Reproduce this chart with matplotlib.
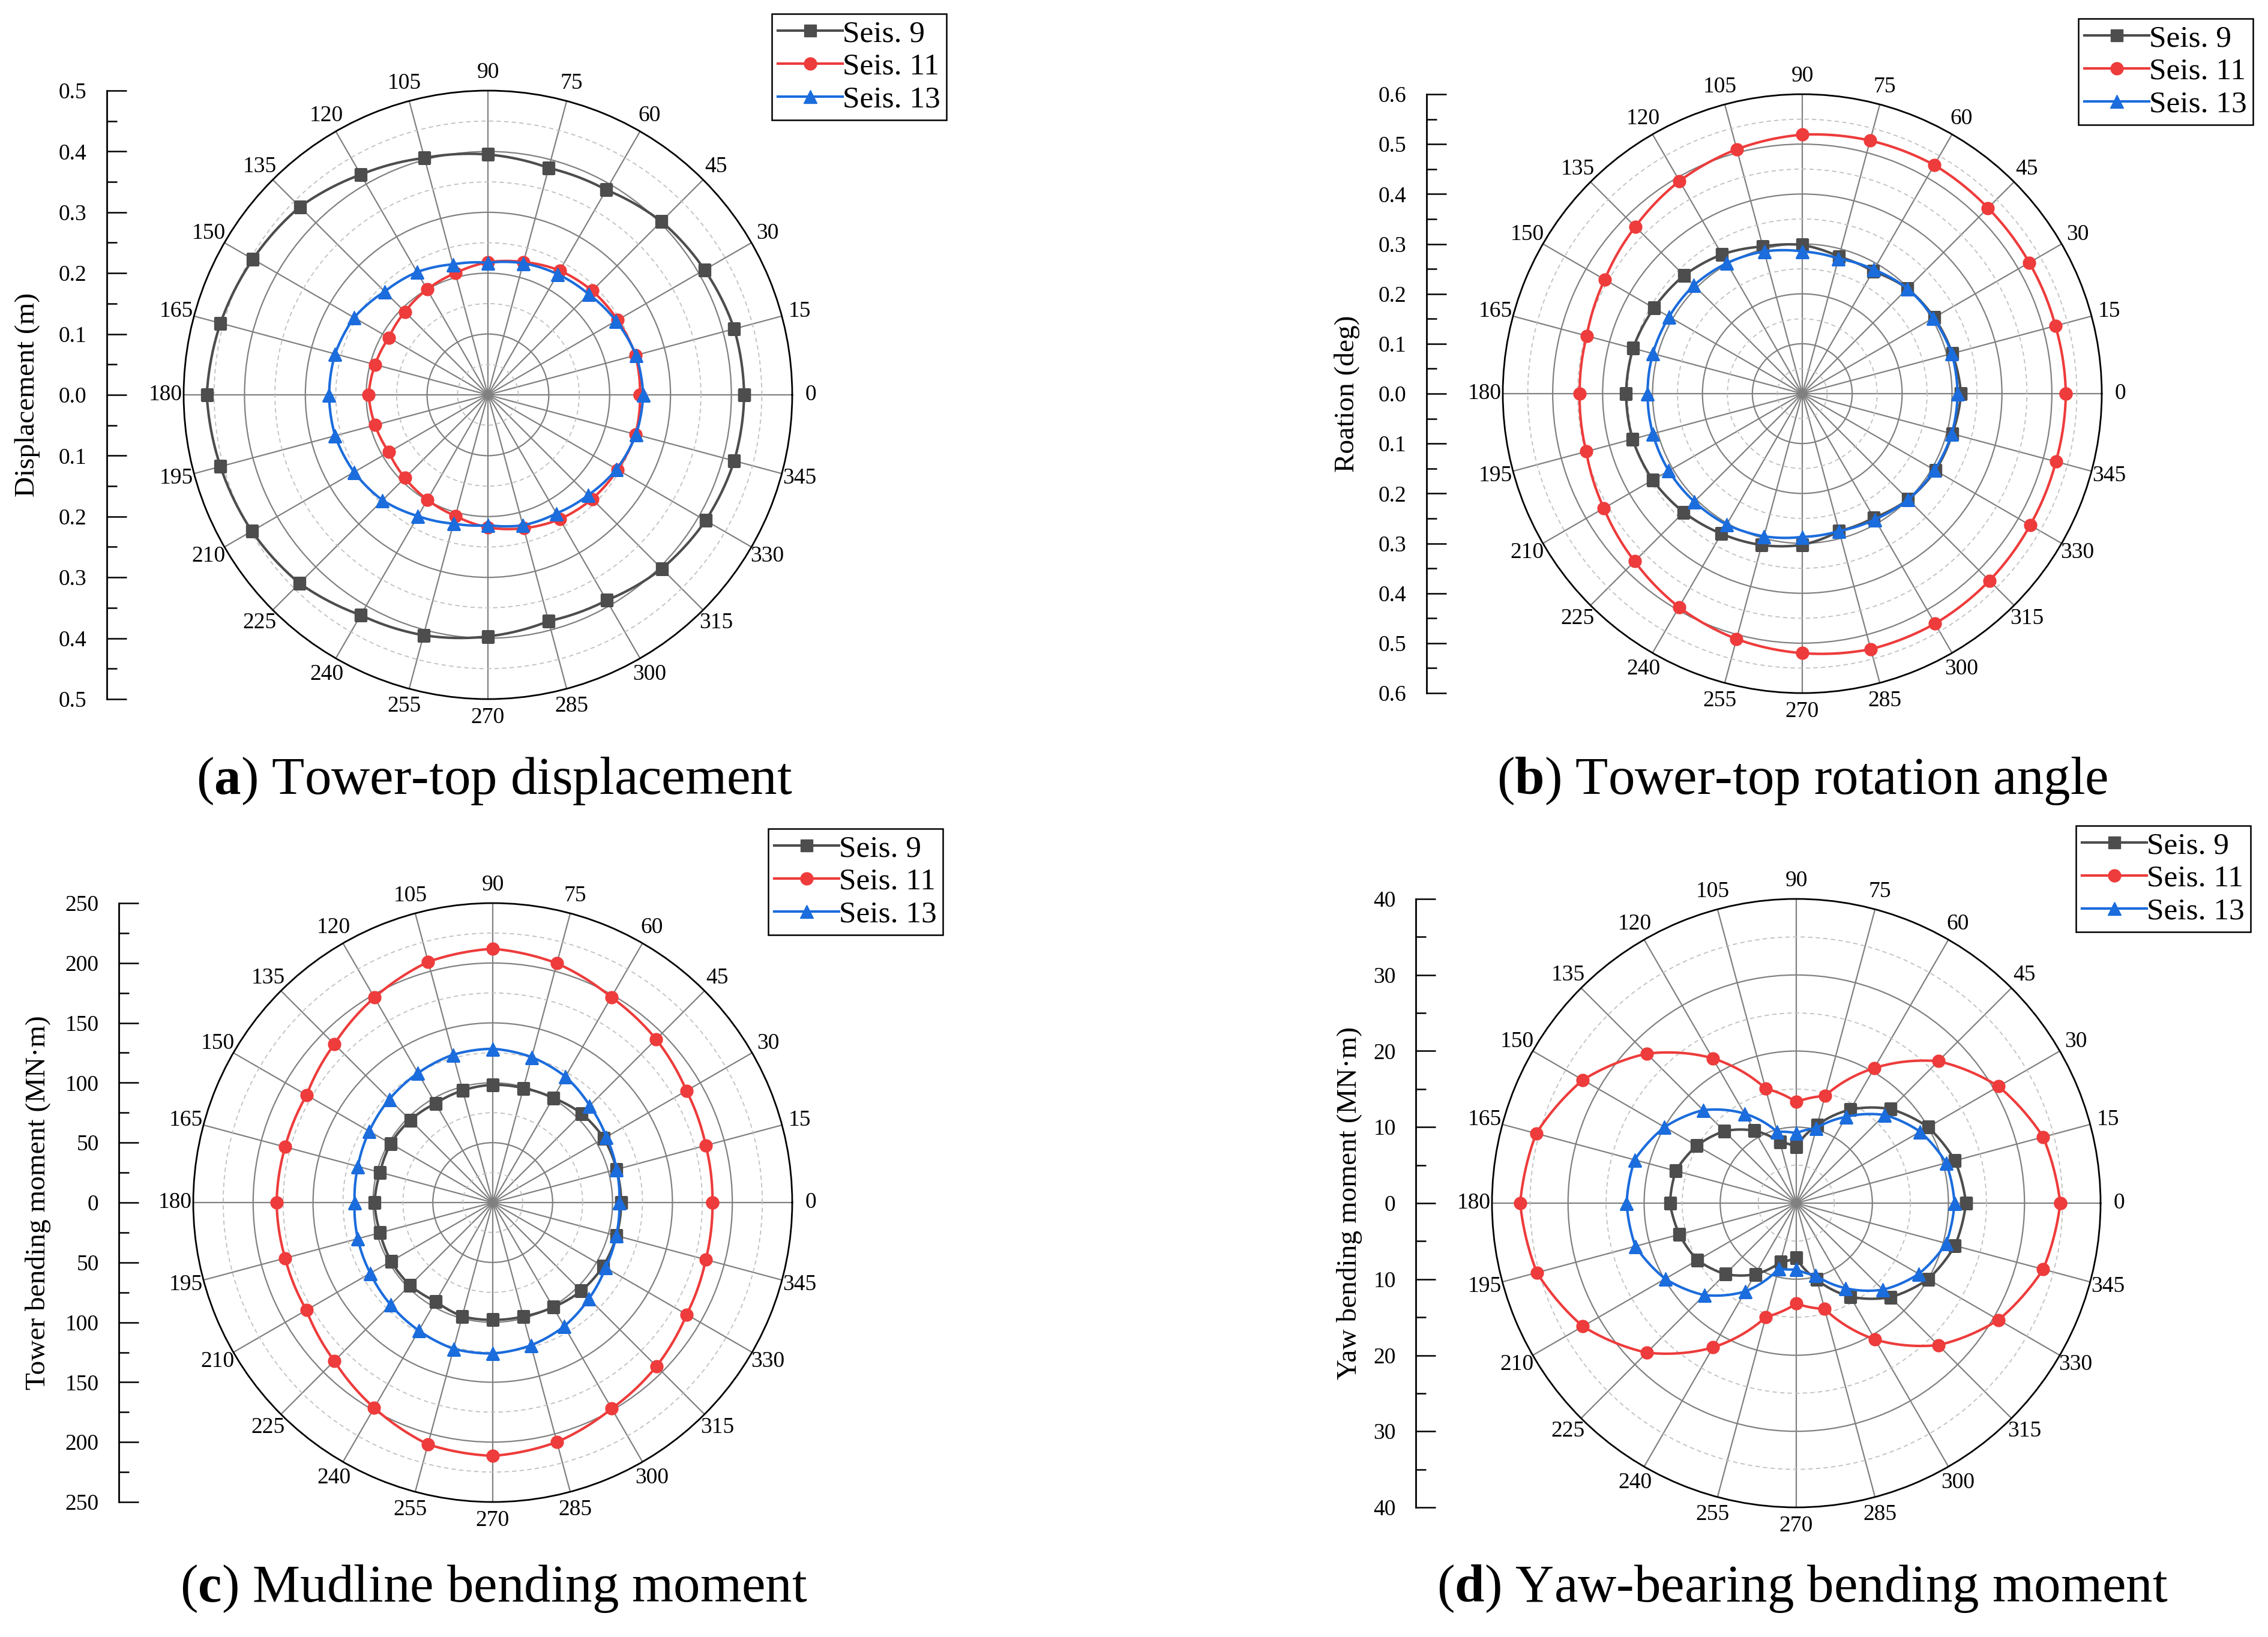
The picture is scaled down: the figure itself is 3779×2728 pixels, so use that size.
import numpy as np
import matplotlib
matplotlib.use('Agg')
import matplotlib.pyplot as plt
from matplotlib.ticker import FuncFormatter

plt.rcParams['font.family'] = ['Liberation Serif', 'DejaVu Serif']
plt.rcParams['mathtext.fontset'] = 'custom'
plt.rcParams['mathtext.rm'] = 'Liberation Serif'
plt.rcParams['mathtext.bf'] = 'Liberation Serif:bold'

# incident angles (deg)
angles = [0, 15, 30, 45, 60, 75, 90, 105, 120, 135, 150, 165,
          180, 195, 210, 225, 240, 255, 270, 285, 300, 315, 330, 345]
series_names = ['Seis. 9', 'Seis. 11', 'Seis. 13']

# (a) tower-top displacement (m)
disp_s9 = [0.421, 0.419, 0.411, 0.403, 0.389, 0.386, 0.395, 0.403, 0.418, 0.437, 0.446, 0.455,
           0.462, 0.455, 0.448, 0.438, 0.418, 0.409, 0.397, 0.385, 0.390, 0.404, 0.413, 0.419]
disp_s11 = [0.250, 0.251, 0.246, 0.242, 0.236, 0.226, 0.218, 0.207, 0.200, 0.193, 0.188, 0.192,
            0.196, 0.192, 0.188, 0.193, 0.199, 0.206, 0.218, 0.227, 0.236, 0.242, 0.246, 0.251]
disp_s13 = [0.255, 0.252, 0.243, 0.234, 0.229, 0.224, 0.217, 0.222, 0.233, 0.240, 0.254, 0.260,
            0.261, 0.260, 0.254, 0.245, 0.230, 0.219, 0.214, 0.222, 0.225, 0.233, 0.244, 0.252]

# (b) tower-top rotation (deg)
rot_s9 = [0.318, 0.311, 0.305, 0.298, 0.283, 0.284, 0.298, 0.305, 0.322, 0.335, 0.343, 0.351,
          0.353, 0.352, 0.346, 0.336, 0.324, 0.314, 0.303, 0.285, 0.287, 0.300, 0.308, 0.311]
rot_s11 = [0.528, 0.525, 0.525, 0.526, 0.529, 0.525, 0.519, 0.507, 0.492, 0.473, 0.457, 0.447,
           0.446, 0.448, 0.459, 0.475, 0.494, 0.509, 0.520, 0.530, 0.532, 0.530, 0.527, 0.526]
rot_s13 = [0.311, 0.310, 0.303, 0.298, 0.287, 0.280, 0.285, 0.295, 0.302, 0.307, 0.308, 0.310,
           0.310, 0.310, 0.309, 0.306, 0.303, 0.296, 0.287, 0.285, 0.291, 0.300, 0.306, 0.310]

# (c) mudline bending moment (MN.m)
mud_s9 = [107.2, 107.0, 107.2, 105.0, 100.8, 98.8, 98.3, 96.9, 95.5, 97.4, 98.4, 97.3,
          98.6, 97.3, 98.0, 97.7, 95.2, 98.4, 97.9, 98.4, 100.8, 104.4, 106.4, 107.0]
mud_s11 = [183.4, 184.1, 186.7, 192.8, 197.9, 206.8, 211.9, 208.1, 197.6, 187.0, 179.4, 179.4,
           180.4, 179.4, 179.6, 187.0, 197.9, 209.0, 211.5, 207.0, 198.6, 193.3, 186.9, 184.1]
mud_s13 = [105.7, 107.0, 109.5, 114.4, 121.4, 125.7, 128.4, 127.8, 124.8, 122.0, 119.0, 116.5,
           115.3, 116.6, 118.0, 120.6, 123.4, 126.4, 126.0, 123.4, 119.3, 113.5, 108.7, 106.7]

# (d) yaw-bearing bending moment (MN.m)
yaw_s9 = [22.3, 21.6, 20.0, 17.5, 14.2, 10.6, 7.4, 8.3, 11.0, 13.4, 15.1, 16.4,
          16.6, 15.9, 15.0, 13.2, 10.8, 8.0, 7.2, 10.4, 14.2, 17.5, 20.0, 21.6]
yaw_s11 = [34.7, 33.6, 30.7, 26.4, 20.5, 14.6, 13.3, 15.6, 22.0, 27.8, 32.4, 35.4,
           36.3, 35.3, 32.4, 27.8, 21.9, 15.5, 13.2, 14.4, 20.7, 26.4, 30.7, 33.6]
yaw_s13 = [20.8, 20.4, 18.8, 16.4, 13.1, 10.2, 9.2, 9.7, 13.6, 17.3, 20.0, 22.0,
           22.3, 21.9, 19.9, 17.1, 13.4, 8.9, 8.7, 9.8, 12.9, 16.1, 18.6, 20.4]

colors = ['#4d4d4d', '#ee3b3b', '#1b6cdc']
markers = ['s', 'o', '^']
msizes = [14, 15, 16]

W, H = 3780, 2728
fig = plt.figure(figsize=(W / 100, H / 100), dpi=100)


def draw_panel(cx, cy, R, axis_x, label_x, rmax, major, fmt, ylabel, data,
               leg_right, leg_top, cap_x, cap_y, caption):
    # polar part
    ax = fig.add_axes([(cx - R) / W, 1 - (cy + R) / H, 2 * R / W, 2 * R / H], projection='polar')
    th = np.deg2rad(np.append(angles, 360))
    for vals, c, m, ms, name in zip(data, colors, markers, msizes, series_names):
        ln, = ax.plot(th, np.append(vals, vals[0]), color=c, marker=m, ms=ms, lw=3, label=name)
        # draw segments as spirals in polar space instead of chords
        ln.get_path()._interpolation_steps = 30
    ax.set_ylim(0, rmax)
    ax.set_yticks(np.arange(major, rmax - major / 2, major))
    ax.set_yticks(np.arange(major / 2, rmax, major), minor=True)
    ax.set_yticklabels([])
    ax.set_xticks(np.deg2rad(angles))
    ax.set_xticklabels([str(a) for a in angles])
    ax.set_xticks(np.deg2rad(np.array(angles) + 7.5), minor=True)
    ax.grid(which='major', color='#808080', lw=1.6, ls='-')
    ax.yaxis.grid(which='minor', color='#c0c0c0', lw=1.3, ls=(0, (4, 3)))
    ax.tick_params(axis='x', which='major', direction='in', length=12, width=1.6, pad=15, labelsize=27)
    ax.tick_params(axis='x', which='minor', direction='in', length=7, width=1.6)
    ax.tick_params(axis='y', which='both', length=0)
    ax.spines['polar'].set_linewidth(2)

    leg = ax.legend(loc='upper right', bbox_to_anchor=(leg_right / W, 1 - leg_top / H),
                    bbox_transform=fig.transFigure, fontsize=37, fancybox=False,
                    edgecolor='black', framealpha=1, handlelength=2.1, borderpad=0.2,
                    labelspacing=0.15, handletextpad=0.0, borderaxespad=0)
    leg.get_frame().set_linewidth(1.8)

    # linear radius scale on the left
    ay = fig.add_axes([axis_x / W, 1 - (cy + R) / H, 0.02, 2 * R / H])
    ay.set_ylim(-rmax, rmax)
    ay.set_yticks(np.arange(-rmax, rmax + major / 2, major))
    ay.set_yticks(np.arange(-rmax + major / 2, rmax, major), minor=True)
    ay.yaxis.set_major_formatter(FuncFormatter(lambda v, p: fmt % abs(v)))
    for s in ['top', 'right', 'bottom']:
        ay.spines[s].set_visible(False)
    ay.spines['left'].set_linewidth(2)
    ay.set_xticks([])
    ay.patch.set_visible(False)
    ay.tick_params(axis='y', which='major', direction='in', length=24, width=1.8, pad=24, labelsize=27)
    ay.tick_params(axis='y', which='minor', direction='in', length=12, width=1.8)

    fig.text(label_x / W, 1 - cy / H, ylabel, rotation=90, ha='center', va='center', fontsize=34)
    fig.text(cap_x / W, 1 - cap_y / H, caption, ha='center', va='center', fontsize=64)


draw_panel(813, 658, 507, 178, 46, 0.5, 0.1, '%.1f', 'Displacement (m)',
           [disp_s9, disp_s11, disp_s13], 1577, 23, 824, 1302,
           r'($\mathbf{a}$) Tower-top displacement')
draw_panel(3003, 656, 499, 2377, 2245, 0.6, 0.1, '%.1f', 'Roation (deg)',
           [rot_s9, rot_s11, rot_s13], 3754, 31, 3003, 1302,
           r'($\mathbf{b}$) Tower-top rotation angle')
draw_panel(821, 2004, 499, 198, 64, 250, 50, '%d', 'Tower bending moment (MN·m)',
           [mud_s9, mud_s11, mud_s13], 1571, 1381, 823, 2647,
           r'($\mathbf{c}$) Mudline bending moment')
draw_panel(2993, 2005, 507, 2359, 2248, 40, 10, '%d', 'Yaw bending moment (MN·m)',
           [yaw_s9, yaw_s11, yaw_s13], 3750, 1376, 3003, 2647,
           r'($\mathbf{d}$) Yaw-bearing bending moment')

fig.savefig('out.png', dpi=100)
